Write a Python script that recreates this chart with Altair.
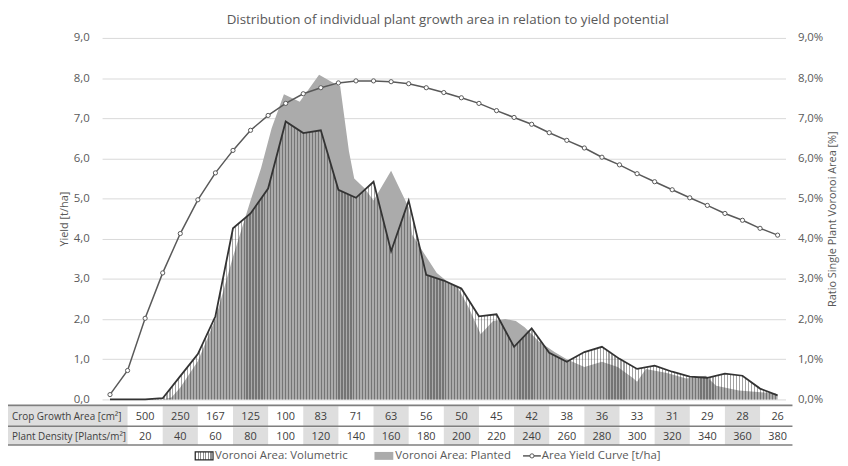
import altair as alt
import pandas as pd

# ---------------- data ----------------
curve_density = list(range(0, 390, 10))  # plants / m²
yield_curve = [0.12, 0.72, 2.02, 3.15, 4.13, 4.97, 5.64, 6.2, 6.7, 7.07, 7.37, 7.61, 7.76,
               7.88, 7.93, 7.93, 7.91, 7.86, 7.76, 7.64, 7.51, 7.37, 7.19, 7.02, 6.85, 6.64,
               6.45, 6.26, 6.03, 5.84, 5.62, 5.42, 5.22, 5.02, 4.83, 4.63, 4.46, 4.26, 4.09]
volumetric = [0, 0, 0, 0.03, 0.58, 1.13, 2.07, 4.26, 4.63, 5.25, 6.92, 6.63, 6.7, 5.22, 5.02,
              5.42, 3.69, 4.95, 3.1, 2.96, 2.76, 2.07, 2.12, 1.31, 1.77, 1.16, 0.94, 1.18, 1.31,
              1.01, 0.76, 0.84, 0.69, 0.57, 0.54, 0.64, 0.59, 0.27, 0.1]

planted_density = [30, 35, 40, 50, 60, 70, 80, 86, 92, 99, 108, 119, 128, 131, 136, 139, 145,
                   150, 160, 170, 172, 180, 186, 193, 198, 204, 211, 218, 225, 231, 236, 244,
                   253, 260, 270, 280, 289, 298, 300, 305, 317, 328, 339, 345, 358, 379, 380]
planted = [0, 0.05, 0.3, 0.95, 2.0, 3.55, 4.95, 5.76, 6.75, 7.6, 7.41, 8.08, 7.86, 7.8, 6.18,
           5.5, 5.25, 4.95, 5.69, 4.78, 4.1, 3.55, 3.15, 2.9, 2.78, 2.3, 1.62, 1.95, 2.0, 1.95,
           1.8, 1.45, 1.18, 1.0, 0.81, 0.94, 0.81, 0.52, 0.44, 0.76, 0.66, 0.52, 0.59, 0.34,
           0.22, 0.15, 0.1]

table_density = list(range(20, 400, 20))
table_area = ["500", "250", "167", "125", "100", "83", "71", "63", "56", "50", "45", "42",
              "38", "36", "33", "31", "29", "28", "26"]
row_labels = ["Crop Growth Area [cm²]", "Plant Density [Plants/m²]"]
title_text = "Distribution of individual plant growth area in relation to yield potential"
legend_labels = ["Voronoi Area: Volumetric", "Voronoi Area: Planted", "Area Yield Curve [t/ha]"]

# ---------------- frames ----------------
curve_df = pd.DataFrame({"d": curve_density, "yield": yield_curve, "vol": volumetric})
planted_df = pd.DataFrame({"d": planted_density, "planted": planted})
table_df = pd.DataFrame({
    "d": table_density,
    "x0": [v - 10 for v in table_density],
    "x1": [v + 10 for v in table_density],
    "area": table_area,
    "dens": [str(v) for v in table_density],
    "shade": [i % 2 == 1 for i in range(len(table_density))],
})

GRAY = "#595959"
DARK = "#404040"
XDOM = [-4.5, 384.5]
xs = alt.Scale(domain=XDOM)


def stripes(n, frac, color):
    stops = []
    for i in range(n):
        a, b, c = i / n, (i + frac) / n, (i + 1) / n
        stops += [alt.GradientStop(offset=round(a, 6), color=color),
                  alt.GradientStop(offset=round(b, 6), color=color),
                  alt.GradientStop(offset=round(b, 6), color="rgba(255,255,255,0)"),
                  alt.GradientStop(offset=round(c, 6), color="rgba(255,255,255,0)")]
    return alt.Gradient(gradient="linear", stops=stops, x1=0, x2=1, y1=0, y2=0)


hatch = stripes(225, 0.4, "rgba(50,50,50,0.45)")
hatch_small = stripes(7, 0.4, "rgba(50,50,50,0.55)")

lab_expr = "replace(format(datum.value, '.1f'), '.', ',')"

right_axis = alt.Axis(orient="right", values=list(range(10)), labelExpr=lab_expr + " + '%'",
                      grid=False, domain=False, ticks=False, labelPadding=12,
                      title="Ratio Single Plant Voronoi Area [%]", titleAngle=270,
                      titleBaseline="top", titlePadding=4, labelColor=GRAY, titleColor=GRAY,
                      labelFontSize=11.5, titleFontSize=11, titleFontWeight="normal")
left_axis = alt.Axis(orient="left", values=list(range(10)), labelExpr=lab_expr,
                     grid=True, gridColor="#d9d9d9", domain=False, ticks=False,
                     labelPadding=13, title="Yield [t/ha]", titlePadding=4,
                     labelColor=GRAY, titleColor=GRAY, labelFontSize=11.5,
                     titleFontSize=11, titleFontWeight="normal")
ys = alt.Scale(domain=[0, 9], nice=False)

planted_layer = alt.Chart(planted_df).mark_area(color="#ababab", interpolate="linear").encode(
    x=alt.X("d:Q", scale=xs, axis=None),
    y=alt.Y("planted:Q", scale=ys, axis=right_axis),
)
vol_area = alt.Chart(curve_df).mark_area(fill=hatch, interpolate="linear").encode(
    x=alt.X("d:Q", scale=xs, axis=None),
    y=alt.Y("vol:Q", scale=ys, axis=right_axis),
)
vol_line = alt.Chart(curve_df).mark_line(color="#333333", strokeWidth=1.8).encode(
    x=alt.X("d:Q", scale=xs, axis=None),
    y=alt.Y("vol:Q", scale=ys, axis=right_axis),
)
right_group = alt.layer(planted_layer, vol_area, vol_line)

yield_line = alt.Chart(curve_df).mark_line(color=GRAY, strokeWidth=1.5).encode(
    x=alt.X("d:Q", scale=xs, axis=None),
    y=alt.Y("yield:Q", scale=ys, axis=left_axis),
)
yield_pts = alt.Chart(curve_df).mark_point(filled=True, fill="white", stroke=GRAY,
                                           strokeWidth=1, size=18, opacity=1).encode(
    x=alt.X("d:Q", scale=xs, axis=None),
    y=alt.Y("yield:Q", scale=ys, axis=left_axis),
)
left_group = alt.layer(yield_line, yield_pts)

# ---------------- table under the plot ----------------
tbase = alt.Chart(table_df)
shade1 = tbase.transform_filter("datum.shade").mark_rect(color="#dedede").encode(
    x=alt.X("x0:Q", scale=xs, axis=None), x2="x1:Q",
    y=alt.value(372), y2=alt.value(392))
shade2 = tbase.transform_filter("datum.shade").mark_rect(color="#dedede").encode(
    x=alt.X("x0:Q", scale=xs, axis=None), x2="x1:Q",
    y=alt.value(393), y2=alt.value(411))
label_cells = alt.Chart(pd.DataFrame({"r": [0]})).mark_rect(color="#dedede").encode(
    x=alt.value(-95), x2=alt.value(25.7), y=alt.value(372), y2=alt.value(411))
txt1 = tbase.mark_text(fontSize=11, color=DARK, baseline="middle").encode(
    x=alt.X("d:Q", scale=xs, axis=None), y=alt.value(382.5), text="area:N")
txt2 = tbase.mark_text(fontSize=11, color=DARK, baseline="middle").encode(
    x=alt.X("d:Q", scale=xs, axis=None), y=alt.value(402.5), text="dens:N")
one = pd.DataFrame({"r": [0]})
rl1 = alt.Chart(one).mark_text(text=row_labels[0], fontSize=10, color=DARK, align="left",
                               baseline="middle").encode(x=alt.value(-91), y=alt.value(382.5))
rl2 = alt.Chart(one).mark_text(text=row_labels[1], fontSize=10, color=DARK, align="left",
                               baseline="middle").encode(x=alt.value(-91), y=alt.value(402.5))
lines = [alt.Chart(one).mark_rule(color="#7f7f7f", strokeWidth=1.6).encode(
    x=alt.value(-95), x2=alt.value(697), y=alt.value(yy)) for yy in (371, 392, 411)]

# ---------------- legend ----------------
lg_y = 422
leg_vol = alt.Chart(one).mark_rect(fill=hatch_small, stroke="#262626", strokeWidth=1.2).encode(
    x=alt.value(94), x2=alt.value(112), y=alt.value(lg_y - 4), y2=alt.value(lg_y + 4))
leg_pl = alt.Chart(one).mark_rect(color="#ababab").encode(
    x=alt.value(275), x2=alt.value(294), y=alt.value(lg_y - 4), y2=alt.value(lg_y + 4))
leg_yl = alt.Chart(one).mark_rule(color=GRAY, strokeWidth=1.5).encode(
    x=alt.value(425), x2=alt.value(443), y=alt.value(lg_y))
leg_yp = alt.Chart(one).mark_point(filled=True, fill="white", stroke=GRAY, strokeWidth=1,
                                   size=18, opacity=1).encode(x=alt.value(434), y=alt.value(lg_y))
leg_txt = [alt.Chart(one).mark_text(text=t, fontSize=11.5, color=GRAY, align="left",
                                    baseline="middle").encode(x=alt.value(xx), y=alt.value(lg_y))
           for t, xx in zip(legend_labels, (114, 296, 444))]

extras = alt.layer(label_cells, shade1, shade2, *lines, txt1, txt2, rl1, rl2,
                   leg_vol, leg_pl, leg_yl, leg_yp, *leg_txt)

chart = alt.layer(right_group, left_group, extras).resolve_scale(y="independent").properties(
    width=690, height=365,
    title=alt.Title(title_text, fontSize=13.5, color=GRAY, fontWeight="normal",
                    anchor="middle", offset=6, dx=4),
    padding={"left": 95, "top": 28, "right": 55, "bottom": 65},
    autosize=alt.AutoSizeParams(type="none"),
).configure(font="Open Sans").configure_view(stroke=None)

chart.save("out.html", embed_options={"renderer": "svg", "actions": False})
